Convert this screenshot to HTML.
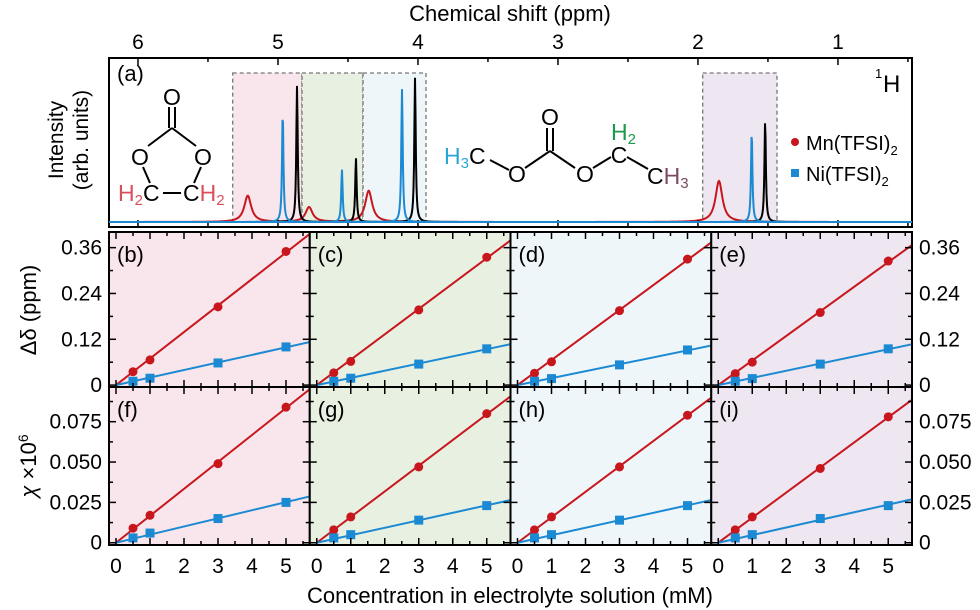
<!DOCTYPE html>
<html><head><meta charset="utf-8"><style>
body{margin:0;background:#fff}
svg{display:block;font-family:"Liberation Sans",Arial,sans-serif}
</style></head><body>
<svg id="fig" width="980" height="610" viewBox="0 0 980 610"></svg>
<script>
// ---- spectrum data (ppm, relative height) ----
const redPeaksPpm=[5.216,4.778,4.352,1.85];
const redPeaksH=[0.16,0.09,0.19,0.25];
const bluePeaksPpm=[4.966,4.543,4.114,1.616];
const bluePeaksH=[0.67,0.32,0.81,0.55];
const blackPeaksPpm=[4.864,4.443,4.021,1.52];
const blackPeaksH=[0.83,0.39,0.88,0.62];
const ppmTicks=[6,5,4,3,2,1];
// ---- panel data ----
const conc=[0.5,1,3,5];
const panelLabels=['b','c','d','e','f','g','h','i'];
const dShiftMn=[[0.035,0.066,0.205,0.35],[0.032,0.062,0.197,0.335],[0.031,0.061,0.195,0.33],[0.03,0.06,0.19,0.325]];
const dShiftNi=[[0.01,0.018,0.058,0.1],[0.01,0.018,0.055,0.095],[0.01,0.017,0.053,0.092],[0.01,0.017,0.055,0.095]];
const chiMn=[[0.009,0.017,0.049,0.084],[0.008,0.016,0.047,0.080],[0.008,0.016,0.047,0.079],[0.008,0.016,0.046,0.078]];
const chiNi=[[0.003,0.006,0.015,0.025],[0.003,0.005,0.014,0.023],[0.003,0.005,0.014,0.023],[0.003,0.005,0.015,0.023]];
const dTicks=[0,0.12,0.24,0.36];
const dTickLabels=['0','0.12','0.24','0.36'];
const cTicks=[0,0.025,0.05,0.075];
const cTickLabels=['0','0.025','0.050','0.075'];
const concTicks=[0,1,2,3,4,5];

const NS='http://www.w3.org/2000/svg';
const svg=document.getElementById('fig');
function el(tag,attrs,parent,text){const e=document.createElementNS(NS,tag);for(const k in attrs)e.setAttribute(k,attrs[k]);if(text!==undefined)e.textContent=text;(parent||svg).appendChild(e);return e;}
const RED='#c8161d',BLUE='#1b8ad3';
const bgCols=['#f8e6ec','#e8f0e2','#eef6fa','#eee6f0'];
const FS=21;

// ---- top panel ----
const L=109,R=912,T=58,B=227,BASE=222;
const px=p=>L+(6.207-p)*(R-L)/(6.207-0.471);
const py=h=>BASE-h*164;
const boxes=[[232.7,302,0],[302,363,1],[363,426,2],[702.7,777,3]];
boxes.forEach((b,i)=>{const r=el('rect',{x:b[0],y:73,width:b[1]-b[0],height:BASE-73,fill:bgCols[b[2]],stroke:'#777','stroke-width':1.3,'stroke-dasharray':'4,3'});
});
function spectrum(pp,hh,w,color,name){let d='';for(let x=L;x<=R;x+=0.5){const p=6.207-(x-L)*(6.207-0.471)/(R-L);let s=0;for(let i=0;i<pp.length;i++){const q=(p-pp[i])/w;s+=hh[i]/(1+q*q);}d+=(d?'L':'M')+x.toFixed(1)+','+py(s).toFixed(2);}
const e=el('path',{d:d,fill:'none',stroke:color,'stroke-width':2});}
spectrum(redPeaksPpm,redPeaksH,0.03,RED,'spectrum-mn');
spectrum(blackPeaksPpm,blackPeaksH,0.006,'#000','spectrum-reference');
spectrum(bluePeaksPpm,bluePeaksH,0.006,BLUE,'spectrum-ni');
let fr=el('rect',{x:L,y:T,width:R-L,height:B-T,fill:'none',stroke:'#000','stroke-width':2});

for(let p=6;p>=0.5;p-=0.5){const x=px(p),len=(Math.abs(p-Math.round(p))<1e-6)?7:4;el('line',{x1:x,y1:T,x2:x,y2:T+len,stroke:'#000','stroke-width':1.5});el('line',{x1:x,y1:B,x2:x,y2:B-len,stroke:'#000','stroke-width':1.5});}
ppmTicks.forEach(p=>{const t=el('text',{x:px(p),y:49,'font-size':FS,'text-anchor':'middle'},svg,String(p));});
let tt=el('text',{x:510,y:21,'font-size':22,'text-anchor':'middle'},svg,'Chemical shift (ppm)');
let ia=el('text',{x:117,y:81,'font-size':22},svg,'(a)');
let hh=el('text',{x:883,y:92,'font-size':24},svg,'H');
el('text',{x:875,y:78,'font-size':13},svg,'1');
let yi=el('text',{transform:'translate(63,140) rotate(-90)','font-size':21,'text-anchor':'middle'},svg,'Intensity');
el('text',{transform:'translate(88,140) rotate(-90)','font-size':21,'text-anchor':'middle'},svg,'(arb. units)');
// legend
let lg=el('g',{},svg);
el('circle',{cx:795,cy:142,r:4,fill:RED},lg);
el('rect',{x:791,y:169,width:8,height:8,fill:BLUE},lg);
const t1=el('text',{x:806,y:150,'font-size':20},lg,'Mn(TFSI)');el('tspan',{'font-size':13,dy:5},t1,'2');
const t2=el('text',{x:806,y:181,'font-size':20},lg,'Ni(TFSI)');el('tspan',{'font-size':13,dy:5},t2,'2');
// EC molecule
const mol=el('g',{'stroke':'#000','stroke-width':2,fill:'none'});
[[169,107,169,128],[175,107,175,128],[172,128,148,146],[172,128,196,146],[143,167,150,183],[201,167,194,183],[163,193,181,193]].forEach(l=>el('line',{x1:l[0],y1:l[1],x2:l[2],y2:l[3]},mol));
const mt={'font-size':23,stroke:'none',fill:'#000','text-anchor':'middle'};
el('text',Object.assign({x:172,y:105},mt),mol,'O');el('text',Object.assign({x:140,y:165},mt),mol,'O');el('text',Object.assign({x:203,y:165},mt),mol,'O');
const ec1=el('text',{x:118,y:201,'font-size':23,stroke:'none',fill:'#000'},mol);el('tspan',{fill:'#d9505a'},ec1,'H');el('tspan',{fill:'#d9505a','font-size':15,dy:4},ec1,'2');el('tspan',{dy:-4},ec1,'C');
const ec2=el('text',{x:183,y:201,'font-size':23,stroke:'none',fill:'#000'},mol);el('tspan',{},ec2,'C');el('tspan',{fill:'#d9505a'},ec2,'H');el('tspan',{fill:'#d9505a','font-size':15,dy:4},ec2,'2');
// DEC molecule
const dm=el('g',{'stroke':'#000','stroke-width':2,fill:'none'});
[[490,160,509,170],[525,168,550,151],[547,128,547,151],[553,128,553,151],[550,151,575,168],[593,168,611,157],[627,157,648,169]].forEach(l=>el('line',{x1:l[0],y1:l[1],x2:l[2],y2:l[3]},dm));
el('text',Object.assign({x:550,y:125},mt),dm,'O');el('text',Object.assign({x:517,y:182},mt),dm,'O');el('text',Object.assign({x:585,y:182},mt),dm,'O');el('text',Object.assign({x:619,y:163},mt),dm,'C');
const d1=el('text',{x:444,y:164,'font-size':23,stroke:'none',fill:'#000'},dm);el('tspan',{fill:'#2aa6d6'},d1,'H');el('tspan',{fill:'#2aa6d6','font-size':15,dy:4},d1,'3');el('tspan',{dy:-4},d1,'C');
const d2=el('text',{x:611,y:140,'font-size':23,stroke:'none',fill:'#1a9a4a'},dm,'H');el('tspan',{'font-size':15,dy:4},d2,'2');
const d3=el('text',{x:647,y:184,'font-size':23,stroke:'none',fill:'#000'},dm,'C');el('tspan',{fill:'#7a4a62'},d3,'H');el('tspan',{fill:'#7a4a62','font-size':15,dy:4},d3,'3');
el('line',{x1:L,y1:BASE,x2:R,y2:BASE,stroke:BLUE,'stroke-width':2});

// ---- small panels ----
const PW=(912-109)/4;
const rows=[{top:232,bot:387,ymin:-0.005,ymax:0.401,mn:dShiftMn,ni:dShiftNi,ticks:dTicks,labels:dTickLabels,minor:0.06},
            {top:387,bot:545,ymin:-0.0014,ymax:0.0965,mn:chiMn,ni:chiNi,ticks:cTicks,labels:cTickLabels,minor:0.0125}];
rows.forEach((row,ri)=>{
 for(let c=0;c<4;c++){
  const x0=109+c*PW,x1=x0+PW;
  const sx=v=>x0+(v+0.206)*34;
  const sy=v=>row.bot-(v-row.ymin)/(row.ymax-row.ymin)*(row.bot-row.top);
  const g=el('g',{});
  el('rect',{x:x0,y:row.top,width:PW,height:row.bot-row.top,fill:bgCols[c]},g);
  const cid='clip'+ri+c;const cp=el('clipPath',{id:cid},g);el('rect',{x:x0,y:row.top,width:PW,height:row.bot-row.top},cp);
  [[row.mn[c],RED,'mn'],[row.ni[c],BLUE,'ni']].forEach(([vals,col,nm])=>{
    let sxy=0,sxx=0;conc.forEach((x,i)=>{sxy+=x*vals[i];sxx+=x*x;});const k=sxy/sxx;
    const ln=el('line',{x1:sx(0),y1:sy(0),x2:sx(5.8),y2:sy(5.8*k),stroke:col,'stroke-width':2,'clip-path':'url(#'+cid+')'},g);
    
    conc.forEach((x,i)=>{let m;
      if(nm==='mn')m=el('circle',{cx:sx(x),cy:sy(vals[i]),r:4.5,fill:col},g);
      else m=el('rect',{x:sx(x)-4.5,y:sy(vals[i])-4.5,width:9,height:9,fill:col},g);
      });
  });
  el('rect',{x:x0,y:row.top,width:PW,height:row.bot-row.top,fill:'none',stroke:'#000','stroke-width':2},g);
  for(let v=0;v<=5.5;v+=0.5){const x=sx(v),len=(v%1===0)?7:4;el('line',{x1:x,y1:row.top,x2:x,y2:row.top+len,stroke:'#000','stroke-width':1.5},g);el('line',{x1:x,y1:row.bot,x2:x,y2:row.bot-len,stroke:'#000','stroke-width':1.5},g);}
  for(let j=0;j*row.minor<=row.ymax;j++){const v=j*row.minor,y=sy(v),len=(j%2===0)?7:4;el('line',{x1:x0,y1:y,x2:x0+len,y2:y,stroke:'#000','stroke-width':1.5},g);el('line',{x1:x1,y1:y,x2:x1-len,y2:y,stroke:'#000','stroke-width':1.5},g);}
  el('text',{x:x0+8,y:row.top+30,'font-size':22},g,'('+panelLabels[ri*4+c]+')');
  if(c===0)row.ticks.forEach((v,i)=>{const t=el('text',{x:x0-7,y:sy(v)+7,'font-size':FS,'text-anchor':'end'},svg,row.labels[i]);});
  if(c===3)row.ticks.forEach((v,i)=>{const t=el('text',{x:x1+7,y:sy(v)+7,'font-size':FS},svg,row.labels[i]);});
  if(ri===1)concTicks.forEach(v=>{const t=el('text',{x:sx(v),y:573,'font-size':FS,'text-anchor':'middle'},svg,String(v));});
 }
});
let xt=el('text',{x:510,y:603,'font-size':22,'text-anchor':'middle'},svg,'Concentration in electrolyte solution (mM)');
let y1=el('text',{transform:'translate(36,310) rotate(-90)','font-size':22,'text-anchor':'middle'},svg,'Δδ (ppm)');
let y2=el('text',{transform:'translate(36,466) rotate(-90)','font-size':22,'text-anchor':'middle'},svg);
el('tspan',{'font-style':'italic'},y2,'χ ');el('tspan',{},y2,'×10');el('tspan',{'font-size':14,dy:-8},y2,'6');
</script>
</body></html>
